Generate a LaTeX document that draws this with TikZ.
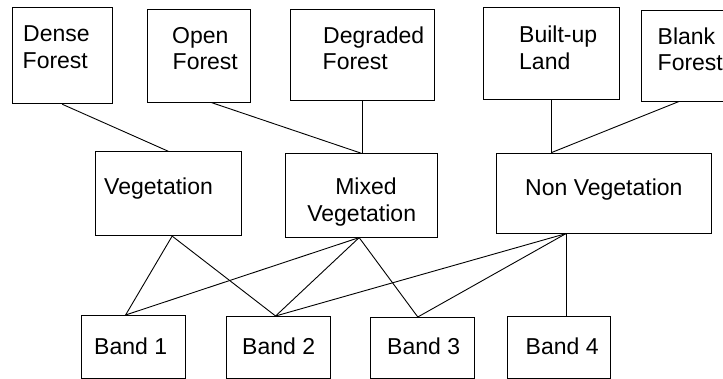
\documentclass[tikz,border=0pt]{standalone}
\usepackage{fontspec}
\setmainfont{Liberation Sans}
\usetikzlibrary{calc}
\tikzset{
  box/.style={draw=black, line width=0.9pt, rectangle, inner sep=0pt, anchor=north west},
  txt/.style={inner sep=0pt, anchor=base west, font=\fontsize{23}{26.7}\selectfont},
  txtc/.style={inner sep=0pt, anchor=base, font=\fontsize{23}{26.7}\selectfont},
  link/.style={draw=black, line width=0.9pt}
}
\begin{document}
\begin{tikzpicture}[x=1pt,y=-1pt]
\useasboundingbox (0,0) rectangle (723,379);
\clip (0,0) rectangle (723,379);
\fill[white] (0,0) rectangle (723,379);
% top row
\node[box, minimum width=100pt, minimum height=96pt] (dense) at (11.7,7.3) {};
\node[box, minimum width=102.7pt, minimum height=92.4pt] (open) at (147.3,9.3) {};
\node[box, minimum width=144pt, minimum height=91pt] (degr) at (289.5,9.3) {};
\node[box, minimum width=135.5pt, minimum height=91.7pt] (built) at (483,7.3) {};
\node[box, minimum width=110pt, minimum height=90.2pt] (blank) at (641.3,10.5) {};
% middle row
\node[box, minimum width=145.8pt, minimum height=83.9pt] (veg) at (95,151.3) {};
\node[box, minimum width=151.4pt, minimum height=83.4pt] (mixed) at (285.3,153.3) {};
\node[box, minimum width=214.7pt, minimum height=80pt] (nonveg) at (496.3,152.7) {};
% bottom row
\node[box, minimum width=103.8pt, minimum height=63pt] (b1) at (81,315) {};
\node[box, minimum width=103.6pt, minimum height=62pt] (b2) at (226,316) {};
\node[box, minimum width=103.4pt, minimum height=61pt] (b3) at (370.2,317) {};
\node[box, minimum width=103.6pt, minimum height=61.5pt] (b4) at (506.8,316.5) {};
% texts
\node[txt] (denseA) at (23,41.7) {Dense};
\node[txt] (denseB) at (22.5,68.4) {Forest};
\node[txt] (openA) at (172,43.3) {Open};
\node[txt] (openB) at (172.5,70) {Forest};
\node[txt] (degrA) at (323,43.3) {Degraded};
\node[txt] (degrB) at (322.5,70) {Forest};
\node[txt] (builtA) at (519,42.7) {Built-up};
\node[txt] (builtB) at (519,69.4) {Land};
\node[txt] (blankA) at (657.5,44.3) {Blank};
\node[txt] (blankB) at (657.5,71) {Forest};
\node[txt] (vegA) at (104,194.3) {Vegetation};
\node[txtc] (mixedA) at (366,195) {Mixed};
\node[txtc] (mixedB) at (361.7,221.7) {Vegetation};
\node[txt] (nonvegA) at (525,196) {Non Vegetation};
\node[txt] (b1A) at (94,355) {Band 1};
\node[txt] (b2A) at (242,355) {Band 2};
\node[txt] (b3A) at (387,355) {Band 3};
\node[txt] (b4A) at (525.5,355) {Band 4};
% meeting points
\coordinate (openS) at ($(open.south west)+(64.2,0)$);
\coordinate (blankS) at ($(blank.south west)+(37.4,0)$);
\coordinate (nvTop) at (built.south |- nonveg.north);
\coordinate (vegS) at ($(veg.south)+(3.8,0)$);
\coordinate (mixS) at ($(mixed.south)+(-2.3,0)$);
\coordinate (nvS) at ($(nonveg.south west)+(69.7,0)$);
\coordinate (b1N) at ($(b1.north west)+(44.6,0)$);
\coordinate (b2N) at ($(b2.north west)+(49.6,0)$);
\coordinate (b3N) at ($(b3.north west)+(47.6,0)$);
% connectors top
\draw[link] (dense.south) -- (veg.north);
\draw[link] (openS) -- (mixed.north);
\draw[link] (degr.south) -- (degr.south |- mixed.north);
\draw[link] (built.south) -- (nvTop);
\draw[link] (blankS) -- (nvTop);
% connectors bottom
\draw[link] (vegS) -- (b1N);
\draw[link] (vegS) -- (b2N);
\draw[link] (mixS) -- (b1N);
\draw[link] (mixS) -- (b2N);
\draw[link] (mixS) -- (b3N);
\draw[link] (nvS) -- (b2N);
\draw[link] (nvS) -- (b3N);
\draw[link] (nvS) -- (nvS |- b4.north);
\end{tikzpicture}
\end{document}
